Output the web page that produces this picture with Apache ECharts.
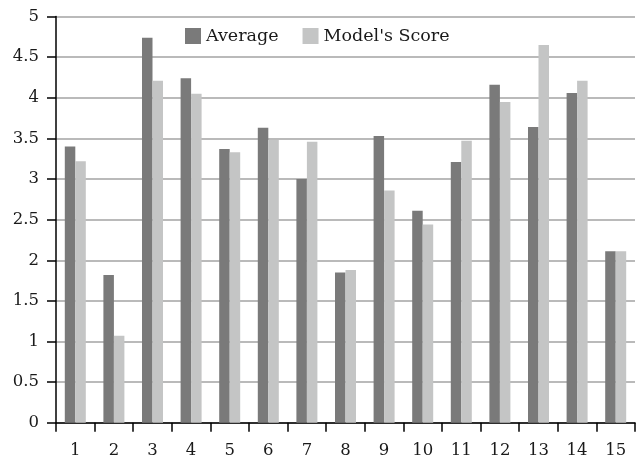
<!DOCTYPE html>
<html>
<head>
<meta charset="utf-8">
<script src="https://cdn.jsdelivr.net/npm/echarts@6/dist/echarts.min.js"></script>
<style>html,body{margin:0;padding:0;background:#fff;}#c{width:642px;height:461px;}</style>
</head>
<body>
<div id="c"></div>
<script>
const categories = ['1','2','3','4','5','6','7','8','9','10','11','12','13','14','15'];
const averageValues = [3.40, 1.82, 4.74, 4.24, 3.37, 3.63, 3.00, 1.85, 3.53, 2.61, 3.21, 4.16, 3.64, 4.06, 2.11];
const modelValues = [3.22, 1.07, 4.21, 4.05, 3.33, 3.48, 3.46, 1.88, 2.86, 2.44, 3.47, 3.95, 4.65, 4.21, 2.11];
const seriesNames = ['Average', "Model's Score"];

const FONT = '"DejaVu Serif", serif';
const chart = echarts.init(document.getElementById('c'), null, {renderer: 'canvas'});
chart.setOption({
  animation: false,
  backgroundColor: '#fff',
  textStyle: {fontFamily: FONT},
  grid: {left: 56, right: 7, top: 16.6, bottom: 38.3, containLabel: false},
  legend: {
    left: 185, top: 27, padding: 0,
    itemWidth: 16, itemHeight: 16, itemGap: 24,
    icon: 'rect',
    textStyle: {fontFamily: FONT, fontSize: 17.5, color: '#1a1a1a'},
    data: seriesNames
  },
  xAxis: {
    type: 'category',
    data: categories,
    boundaryGap: true,
    axisLine: {lineStyle: {color: '#000', width: 1.5}},
    axisTick: {show: true, length: 9, lineStyle: {color: '#000', width: 1.5}},
    axisLabel: {fontFamily: FONT, fontSize: 16.5, color: '#1a1a1a', margin: 20},
    splitLine: {show: false}
  },
  yAxis: {
    type: 'value',
    min: 0, max: 5, interval: 0.5,
    axisLine: {show: true, lineStyle: {color: '#000', width: 1.5}},
    axisTick: {show: true, length: 9, lineStyle: {color: '#000', width: 1.5}},
    axisLabel: {fontFamily: FONT, fontSize: 16.5, color: '#1a1a1a', margin: 17},
    splitLine: {show: true, lineStyle: {color: '#a3a3a3', width: 1.5}}
  },
  series: [
    {name: seriesNames[0], type: 'bar', data: averageValues, barWidth: 10.5, barGap: '0%',
     itemStyle: {color: '#7a7a7a'}},
    {name: seriesNames[1], type: 'bar', data: modelValues, barWidth: 10.5, barGap: '0%',
     itemStyle: {color: '#c4c5c5'}}
  ]
});
</script>
</body>
</html>
